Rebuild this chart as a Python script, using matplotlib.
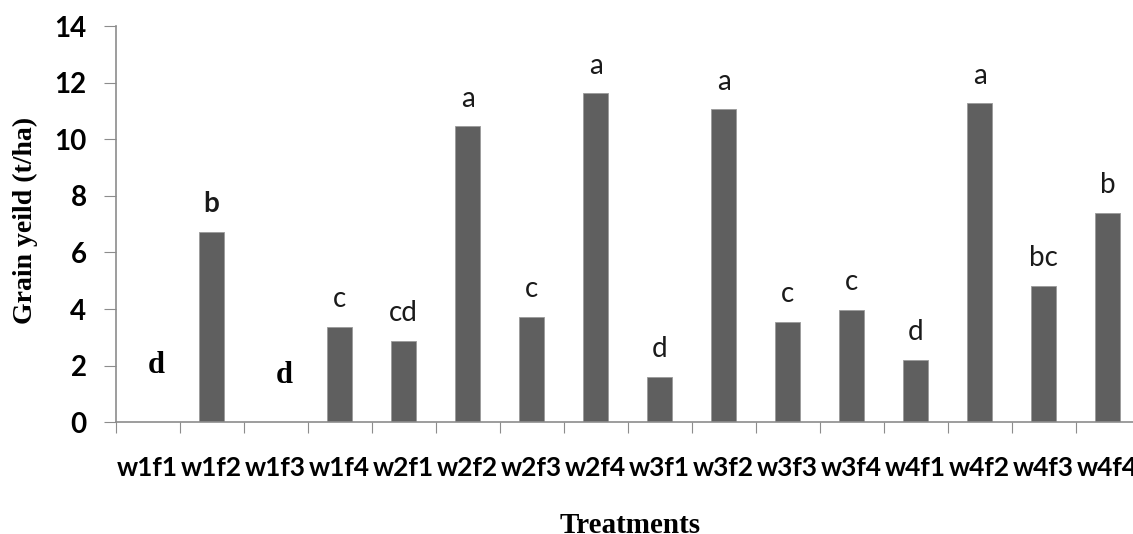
import matplotlib
matplotlib.use("Agg")
import matplotlib.pyplot as plt
import numpy as np

treatments = ["w1f1", "w1f2", "w1f3", "w1f4", "w2f1", "w2f2", "w2f3", "w2f4",
              "w3f1", "w3f2", "w3f3", "w3f4", "w4f1", "w4f2", "w4f3", "w4f4"]
grain_yield = [0.0, 6.73, 0.0, 3.38, 2.88, 10.45, 3.73, 11.62,
               1.6, 11.06, 3.55, 3.97, 2.2, 11.27, 4.83, 7.41]
letters = ["d", "b", "d", "c", "cd", "a", "c", "a",
           "d", "a", "c", "c", "d", "a", "bc", "b"]
# the two empty treatments carry hand-placed labels (x offset, baseline height)
manual_labels = {0: (0.14, 1.75), 2: (0.13, 1.38)}
bold_labels = {1}

SANS = ["Lato", "DejaVu Sans"]
SERIF = ["Liberation Serif", "DejaVu Serif"]
BAR = "#5f5f5f"
AXIS = "#8c8c8c"

fig = plt.figure(figsize=(11.33, 5.34), dpi=100)
ax = fig.add_axes([0.1021, 0.2092, 0.9038, 0.7421])

x = np.arange(len(treatments))
ax.bar(x, grain_yield, width=0.39, color=BAR, edgecolor="#9a9a9a", linewidth=0.6)

for i, (value, letter) in enumerate(zip(grain_yield, letters)):
    if i in manual_labels:
        dx, y = manual_labels[i]
        ax.text(i + dx, y, letter, ha="center", va="baseline", fontsize=22,
                fontweight="bold", family=SERIF)
    else:
        ax.text(i, value + 0.69, letter, ha="center", va="baseline", fontsize=20,
                fontweight="bold" if i in bold_labels else "normal", family=SANS,
                color="#1a1a1a")

ax.set_xlim(-0.5, len(treatments) - 0.5)
ax.set_ylim(0, 14)
ax.set_yticks(np.arange(0, 15, 2))
ax.set_yticklabels([str(v) for v in range(0, 15, 2)], family=SANS,
                   fontweight="bold", fontsize=20)

ax.set_xticks(np.arange(-0.5, len(treatments), 1.0))
ax.set_xticklabels([])
ax.set_xticks(x, minor=True)
ax.set_xticklabels(treatments, minor=True, family=SANS, fontweight="bold", fontsize=19)
ax.tick_params(axis="x", which="major", length=8, color=AXIS, direction="out")
ax.tick_params(axis="x", which="minor", length=0, pad=24)
ax.tick_params(axis="y", length=9, color=AXIS, pad=12)

for side in ("top", "right"):
    ax.spines[side].set_visible(False)
for side in ("left", "bottom"):
    ax.spines[side].set_color(AXIS)
    ax.spines[side].set_linewidth(1.2)

fig.text(0.022, 0.588, "Grain yeild (t/ha)", rotation=90, ha="center", va="center",
         family=SERIF, fontweight="bold", fontsize=20)
fig.text(0.556, 0.002, "Treatments", ha="center", va="baseline",
         family=SERIF, fontweight="bold", fontsize=21)

fig.savefig("out.png", dpi=100)
